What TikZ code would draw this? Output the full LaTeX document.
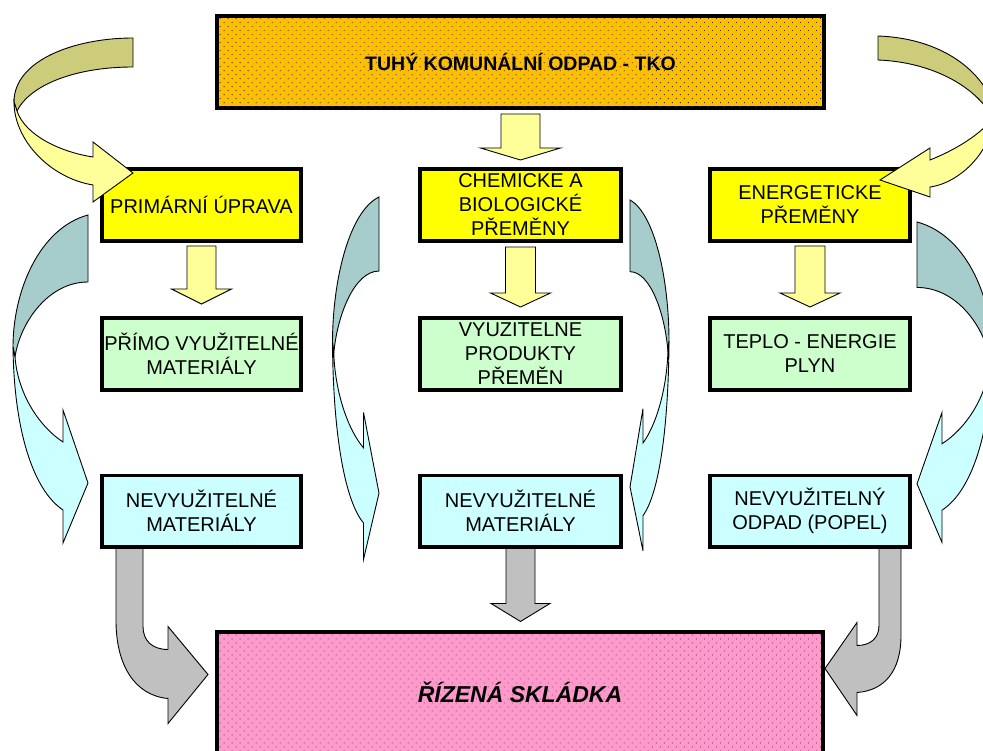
\documentclass[tikz,border=0pt]{standalone}
\usepackage{fontspec}
\setmainfont{Liberation Sans}
\usetikzlibrary{patterns.meta}
\definecolor{tkoorange}{HTML}{FFBF00}
\definecolor{rspink}{HTML}{FF99CC}
\definecolor{byellow}{HTML}{FFFF00}
\definecolor{bgreen}{HTML}{CCFFCC}
\definecolor{bcyan}{HTML}{CCFFFF}
\definecolor{ayellow}{HTML}{FFFF99}
\definecolor{aolive}{HTML}{CCCC7A}
\definecolor{ateal}{HTML}{A6CCCC}
\definecolor{acyan}{HTML}{CCFFFF}
\definecolor{agrey}{HTML}{C0C0C0}
\tikzset{
  box/.style={draw=black, line width=3.8pt, align=center, inner sep=0pt,
    font=\fontsize{20}{24}\selectfont},
  yelbox/.style={box, fill=byellow},
  grnbox/.style={box, fill=bgreen},
  cyanbox/.style={box, fill=bcyan},
  dotted fill/.style={postaction={pattern={Dots[radius=0.55pt, distance=5.66pt, angle=45]}, pattern color=black!80}},
  arrline/.style={draw=black, line width=0.9pt, line join=miter},
  yarr/.style={arrline, fill=ayellow},
  garr/.style={arrline, fill=agrey},
  pics/downarr/.style args={#1/#2/#3/#4}{code={
    \path[pic actions] (-#1,0) -- (-#1,#2) -- (-#3,#2) -- (0,{#2+#4}) -- (#3,#2) -- (#1,#2) -- (#1,0) -- cycle;}},
  pics/bluearrow/.style={code={
    \path[arrline, fill=ateal] (0,0) .. controls (-48,13) and (-75,75) .. (-75,132)
      -- (-73,142) .. controls (-68,108) and (-40,67) .. (0,67) -- cycle;
    \path[arrline, fill=acyan] (-75,132) .. controls (-74,215) and (-55,275) .. (-25,295)
      -- (-25,328) -- (0,268) -- (-25,195) -- (-25,227)
      .. controls (-48,212) and (-70,180) .. (-73,142) -- cycle;}}
}
\begin{document}
\begin{tikzpicture}[x=1pt,y=-1pt]
\useasboundingbox (0,0) rectangle (983,751);
\clip (0,0) rectangle (983,751);
\fill[white] (0,0) rectangle (983,751);

% boxes
\node[box, fill=tkoorange, dotted fill, minimum width=607.2pt, minimum height=92.2pt,
      font=\bfseries\fontsize{19.5}{24}\selectfont] (tko) at (520.5,62) {TUHÝ KOMUNÁLNÍ ODPAD - TKO};

\node[yelbox, minimum width=199.2pt, minimum height=72.2pt] (pu) at (201.5,205) {PRIMÁRNÍ ÚPRAVA};
\node[yelbox, minimum width=201.2pt, minimum height=72.2pt] (cab) at (520.5,205) {CHEMICKE A\\BIOLOGICKÉ\\PŘEMĚNY};
\node[yelbox, minimum width=200.2pt, minimum height=72.2pt] (ep) at (810,205) {ENERGETICKE\\PŘEMĚNY};

\node[grnbox, minimum width=199.2pt, minimum height=72.2pt] (pvm) at (201.5,354) {PŘÍMO VYUŽITELNÉ\\MATERIÁLY};
\node[grnbox, minimum width=201.2pt, minimum height=72.2pt] (vpp) at (520.5,354) {VYUZITELNE\\PRODUKTY\\PŘEMĚN};
\node[grnbox, minimum width=200.2pt, minimum height=72.2pt] (tep) at (810,354) {TEPLO - ENERGIE\\PLYN};

\node[cyanbox, minimum width=199.2pt, minimum height=71.2pt] (nm1) at (201.5,511) {NEVYUŽITELNÉ\\MATERIÁLY};
\node[cyanbox, minimum width=201.2pt, minimum height=71.2pt] (nm2) at (520.5,511) {NEVYUŽITELNÉ\\MATERIÁLY};
\node[cyanbox, minimum width=200.2pt, minimum height=71.2pt] (nop) at (810,511) {NEVYUŽITELNÝ\\ODPAD (POPEL)};

\node[box, fill=rspink, dotted fill, minimum width=606.2pt, minimum height=136pt] (rs) at (520,700) {};
\node[anchor=base, inner sep=0pt, font=\bfseries\itshape\fontsize{23}{28}\selectfont] (rslabel) at (520,702) {ŘÍZENÁ SKLÁDKA};

% straight block arrows
\pic[yarr] at ([yshift=-4pt]tko.south) {downarr=19.5/34/40/12};
\pic[yarr] at ([yshift=-3pt]pu.south) {downarr=14.5/43/30/15};
\pic[yarr] at ([yshift=-4pt]cab.south) {downarr=15/46/30/14};
\pic[yarr] at ([yshift=-3pt]ep.south) {downarr=15/47/30/14};
\pic[garr] at (nm2.south) {downarr=14.5/55/29.5/18};

% curved grey arrows into the landfill
\begin{scope}[shift={(nm1.south)}]
  \path[garr] (-85.5,0) -- (-58.5,0) -- (-58.5,78) .. controls (-58.5,92) and (-49.5,101) .. (-33.5,101)
    -- (-33.5,78) -- (6.5,126) -- (-33.5,175) -- (-33.5,150)
    .. controls (-66.5,147) and (-85.5,117) .. (-85.5,72) -- cycle;
\end{scope}
\begin{scope}[shift={(nop.south)}]
  \path[garr] (91,0) -- (69,0) -- (69,77) .. controls (69,90) and (60,97) .. (47,97)
    -- (47,74) -- (15,120) -- (47,167) -- (47,144)
    .. controls (75,142) and (91,122) .. (91,87) -- cycle;
\end{scope}

% top twisted yellow arrows
\path[arrline, fill=aolive] (133,38) .. controls (75,38) and (14,60) .. (14,102)
  -- (17,111) .. controls (30,85) and (75,67) .. (133,67) -- cycle;
\path[arrline, fill=ayellow] (14,102) .. controls (14,140) and (50,178) .. (93,185)
  -- (93,202) -- (133,173) -- (93,142) -- (93,157)
  .. controls (60,152) and (25,135) .. (17,111) -- cycle;

\path[arrline, fill=aolive] (878,36) .. controls (935,38) and (980,65) .. (995,108)
  -- (993,118) .. controls (975,85) and (930,62) .. (878,60) -- cycle;
\path[arrline, fill=ayellow] (995,108) .. controls (995,150) and (960,183) .. (930,187)
  -- (930,197) -- (880,180) -- (930,148) -- (930,160)
  .. controls (955,150) and (980,135) .. (993,118) -- cycle;

% twisted blue arrows
\pic[shift={(88,215)}] {bluearrow};
\pic[shift={(379,197)}, xscale=0.62, yscale=1.105] {bluearrow};
\pic[shift={(630,200)}, xscale=-0.52, yscale=1.07] {bluearrow};
\pic[shift={(917,222)}, xscale=-1, yscale=0.977] {bluearrow};
\end{tikzpicture}
\end{document}
